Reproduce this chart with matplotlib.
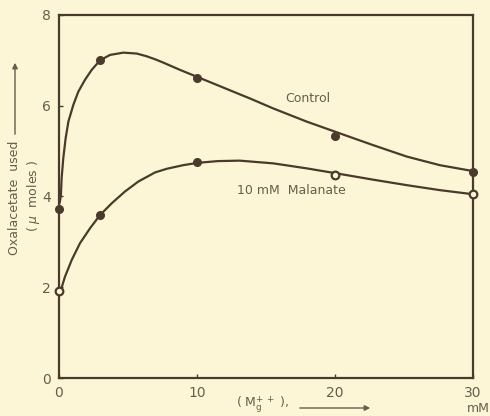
import numpy as np
import matplotlib.pyplot as plt

# measured points
mg_conc = [0, 3, 10, 20, 30]
control = [3.72, 7.0, 6.62, 5.33, 4.54]
malonate = [1.92, 3.59, 4.75, 4.47, 4.05]
malonate_open = [True, False, False, True, True]

# hand-drawn smooth curves
control_curve_x = [0.0, 0.07, 0.14, 0.19, 0.31, 0.48, 0.68, 1.04, 1.4, 1.88, 2.37, 2.97, 3.7,
                   4.66, 5.63, 6.35, 7.0, 7.56, 8.77, 9.98, 11.43, 12.63, 13.84, 15.53, 17.95,
                   20.36, 22.78, 25.2, 27.6, 30.0]
control_curve_y = [3.82, 3.89, 4.03, 4.4, 4.84, 5.28, 5.65, 6.02, 6.31, 6.57, 6.79, 7.0, 7.12,
                   7.17, 7.15, 7.09, 7.02, 6.95, 6.79, 6.64, 6.46, 6.31, 6.16, 5.94, 5.65,
                   5.39, 5.13, 4.88, 4.69, 4.56]
malonate_curve_x = [0.0, 0.14, 0.43, 0.92, 1.52, 2.25, 2.97, 3.82, 4.78, 5.75, 6.96, 7.8, 9.0,
                    10.0, 11.5, 13.1, 15.53, 17.95, 20.1, 22.78, 25.2, 27.6, 30.0]
malonate_curve_y = [1.9, 1.94, 2.23, 2.6, 2.97, 3.3, 3.59, 3.85, 4.11, 4.33, 4.53, 4.61, 4.69,
                    4.74, 4.78, 4.79, 4.73, 4.62, 4.51, 4.37, 4.25, 4.14, 4.05]

x_ticks = [0, 10, 20, 30]
y_ticks = [0, 2, 4, 6, 8]

bg = "#fcf6d6"
ink = "#4a3a2c"
txt = "#6a5c4c"

plt.rcParams["font.family"] = ["DejaVu Sans"]

fig = plt.figure(figsize=(4.9, 4.16), dpi=100, facecolor=bg)
ax = fig.add_axes([0.1204, 0.0913, 0.8449, 0.8727])
ax.set_facecolor(bg)

ax.plot(control_curve_x, control_curve_y, color=ink, lw=1.6,
        solid_capstyle="round", solid_joinstyle="round")
ax.plot(malonate_curve_x, malonate_curve_y, color=ink, lw=1.6,
        solid_capstyle="round", solid_joinstyle="round")

ax.plot(mg_conc, control, "o", color=ink, ms=5.5, clip_on=False, zorder=5)
for x, y, op in zip(mg_conc, malonate, malonate_open):
    if op:
        ax.plot(x, y, "o", mfc=bg, mec=ink, mew=1.6, ms=5.5, clip_on=False, zorder=5)
    else:
        ax.plot(x, y, "o", color=ink, ms=5.5, clip_on=False, zorder=5)

ax.text(16.4, 6.17, "Control", color=txt, fontsize=9, va="center", ha="left")
ax.text(12.9, 4.14, "10 mM  Malanate", color=txt, fontsize=9, va="center", ha="left")

ax.set_xlim(0, 30)
ax.set_ylim(0, 8)
ax.set_xticks(x_ticks)
ax.set_yticks(y_ticks)
ax.tick_params(direction="in", length=3, width=1, colors=ink, labelcolor=txt,
               labelsize=10, pad=6)
for s in ax.spines.values():
    s.set_color(ink)
    s.set_linewidth(1.6)

# y label with arrow
fig.text(15 / 490, 1 - 198 / 416, "Oxalacetate  used", rotation=90, color=txt,
         fontsize=9, ha="center", va="center")
fig.text(33 / 490, 1 - 196 / 416, "( $\\mu$  moles )", rotation=90, color=txt,
         fontsize=9, ha="center", va="center")
ax.annotate("", xy=(15 / 490, 1 - 60 / 416), xytext=(15 / 490, 1 - 137 / 416),
            xycoords="figure fraction",
            arrowprops=dict(arrowstyle="-|>", color=txt, lw=1, mutation_scale=8))

# x label with arrow
fig.text(263 / 490, 1 - 405 / 416, r"( M$_{\mathregular{g}}^{\mathregular{+\,+}}$ ),",
         color=txt, fontsize=9, ha="center", va="center")
ax.annotate("", xy=(373 / 490, 1 - 408 / 416), xytext=(297 / 490, 1 - 408 / 416),
            xycoords="figure fraction",
            arrowprops=dict(arrowstyle="-|>", color=txt, lw=1, mutation_scale=8))
fig.text(478 / 490, 1 - 409 / 416, "mM", color=txt, fontsize=9, ha="center", va="center")

fig.savefig("out.png", dpi=100, facecolor=bg)
